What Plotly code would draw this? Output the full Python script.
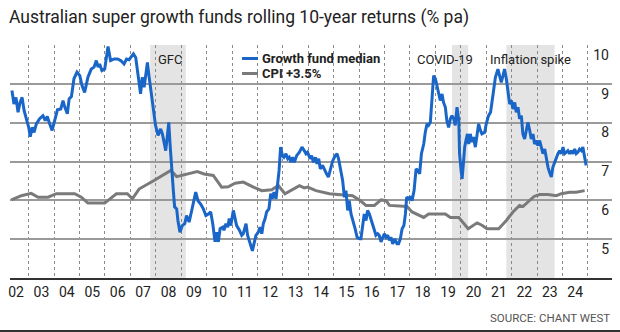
import plotly.graph_objects as go

# Rolling 10-year returns, % pa (fractional calendar years)
growth_years = [
    2002.34, 2002.42, 2002.50, 2002.58, 2002.66, 2002.74, 2002.82, 2002.91, 2003.00, 2003.06,
    2003.14, 2003.21, 2003.30, 2003.43, 2003.56, 2003.65, 2003.73, 2003.82, 2003.92, 2004.02,
    2004.13, 2004.26, 2004.35, 2004.42, 2004.52, 2004.59, 2004.68, 2004.78, 2004.90, 2005.01,
    2005.10, 2005.20, 2005.33, 2005.46, 2005.57, 2005.66, 2005.73, 2005.79, 2005.88, 2005.99,
    2006.08, 2006.12, 2006.22, 2006.36, 2006.49, 2006.62, 2006.75, 2006.85, 2006.95, 2007.01,
    2007.12, 2007.21, 2007.27, 2007.34, 2007.40, 2007.47, 2007.54, 2007.60, 2007.67, 2007.73,
    2007.80, 2007.90, 2007.99, 2008.09, 2008.19, 2008.26, 2008.32, 2008.39, 2008.45, 2008.51,
    2008.56, 2008.62, 2008.69, 2008.74, 2008.82, 2008.87, 2008.95, 2009.04, 2009.14, 2009.21,
    2009.31, 2009.40, 2009.48, 2009.57, 2009.66, 2009.77, 2009.87, 2009.97, 2010.07, 2010.16,
    2010.24, 2010.33, 2010.39, 2010.46, 2010.53, 2010.63, 2010.68, 2010.76, 2010.83, 2010.89,
    2010.95, 2011.05, 2011.12, 2011.18, 2011.29, 2011.38, 2011.44, 2011.55, 2011.61, 2011.71,
    2011.80, 2011.88, 2011.94, 2012.03, 2012.10, 2012.17, 2012.23, 2012.30, 2012.36, 2012.45,
    2012.52, 2012.58, 2012.65, 2012.73, 2012.78, 2012.85, 2012.91, 2012.98, 2013.04, 2013.12,
    2013.19, 2013.25, 2013.32, 2013.38, 2013.45, 2013.54, 2013.65, 2013.75, 2013.84, 2013.91,
    2013.97, 2014.07, 2014.13, 2014.20, 2014.28, 2014.34, 2014.41, 2014.47, 2014.56, 2014.64,
    2014.72, 2014.79, 2014.87, 2014.96, 2015.06, 2015.13, 2015.19, 2015.29, 2015.35, 2015.42,
    2015.48, 2015.55, 2015.61, 2015.68, 2015.74, 2015.84, 2015.92, 2016.01, 2016.07, 2016.14,
    2016.20, 2016.27, 2016.33, 2016.40, 2016.47, 2016.53, 2016.60, 2016.66, 2016.73, 2016.79,
    2016.86, 2016.93, 2016.99, 2017.06, 2017.12, 2017.19, 2017.25, 2017.32, 2017.40, 2017.49,
    2017.55, 2017.62, 2017.69, 2017.76, 2017.82, 2017.87, 2017.95, 2018.01, 2018.08, 2018.16,
    2018.24, 2018.31, 2018.38, 2018.45, 2018.54, 2018.60, 2018.67, 2018.73, 2018.80, 2018.87,
    2018.93, 2019.00, 2019.06, 2019.13, 2019.19, 2019.26, 2019.32, 2019.39, 2019.45, 2019.52,
    2019.59, 2019.65, 2019.72, 2019.78, 2019.85, 2019.92, 2019.95, 2020.01, 2020.05, 2020.10,
    2020.15, 2020.20, 2020.26, 2020.31, 2020.37, 2020.44, 2020.50, 2020.57, 2020.64, 2020.70,
    2020.77, 2020.83, 2020.94, 2021.00, 2021.09, 2021.17, 2021.27, 2021.36, 2021.46, 2021.53,
    2021.59, 2021.66, 2021.72, 2021.79, 2021.86, 2021.92, 2021.99, 2022.05, 2022.12, 2022.18,
    2022.25, 2022.31, 2022.38, 2022.44, 2022.51, 2022.58, 2022.64, 2022.71, 2022.77, 2022.84,
    2022.90, 2022.97, 2023.03, 2023.10, 2023.16, 2023.23, 2023.30, 2023.36, 2023.43, 2023.49,
    2023.56, 2023.62, 2023.69, 2023.76, 2023.82, 2023.89, 2023.95, 2024.02, 2024.08, 2024.15,
    2024.21, 2024.28, 2024.35, 2024.41, 2024.48, 2024.54, 2024.61, 2024.67, 2024.74, 2024.80,
    2024.84, 2024.89, 2024.93,
]
growth_median = [
    8.83, 8.48, 8.65, 8.27, 8.52, 8.65, 8.31, 8.10, 7.88, 7.64,
    7.88, 7.75, 7.97, 8.10, 8.18, 8.05, 8.16, 7.98, 7.80, 8.05,
    8.33, 8.35, 8.57, 8.40, 8.23, 8.61, 8.67, 9.13, 9.30, 9.21,
    8.95, 8.78, 9.17, 9.38, 9.43, 9.60, 9.43, 9.51, 9.34, 9.38,
    9.85, 9.96, 9.60, 9.64, 9.64, 9.60, 9.51, 9.64, 9.62, 9.68,
    9.77, 9.68, 9.30, 9.04, 8.74, 9.17, 8.91, 9.25, 9.55, 9.21,
    8.83, 8.31, 7.93, 7.67, 7.84, 7.71, 7.54, 7.28, 7.63, 8.01,
    7.45, 6.77, 6.25, 5.83, 5.78, 5.48, 5.18, 5.35, 5.40, 5.61,
    5.44, 5.70, 5.95, 6.21, 5.99, 5.90, 5.78, 5.61, 5.65, 5.70,
    5.40, 4.93, 5.18, 4.93, 5.27, 5.31, 5.23, 5.40, 5.31, 5.53,
    5.35, 5.74, 5.53, 5.35, 5.23, 5.10, 5.14, 5.40, 5.10, 4.88,
    4.70, 4.93, 5.10, 5.18, 5.31, 5.14, 5.40, 5.53, 5.70, 5.78,
    6.17, 6.04, 6.21, 6.04, 6.34, 6.77, 7.37, 7.15, 7.11, 7.20,
    7.07, 7.11, 6.98, 7.11, 6.98, 7.15, 7.24, 7.37, 7.28, 7.20,
    7.24, 7.07, 7.15, 6.98, 7.11, 6.94, 7.07, 6.81, 6.90, 6.77,
    6.68, 6.60, 6.81, 7.02, 7.15, 7.20, 7.07, 6.64, 6.51, 6.08,
    6.25, 5.74, 5.99, 5.65, 5.53, 5.27, 5.05, 5.01, 5.01, 5.31,
    5.65, 5.48, 5.74, 5.65, 5.48, 5.40, 5.23, 5.10, 5.14, 5.10,
    4.93, 5.05, 5.14, 5.05, 5.10, 4.97, 5.05, 4.88, 5.01, 4.88,
    4.88, 5.01, 5.27, 5.35, 5.65, 6.08, 6.04, 6.10, 5.99, 6.25,
    6.81, 6.77, 6.68, 7.20, 7.45, 7.75, 7.97, 7.93, 8.01, 8.65,
    9.21, 9.13, 8.95, 8.83, 8.57, 8.74, 8.52, 8.40, 8.05, 7.88,
    8.10, 8.18, 8.10, 7.93, 8.40, 8.05, 7.20, 6.77, 6.55, 6.94,
    7.37, 7.54, 7.71, 7.45, 7.71, 7.50, 7.63, 7.37, 7.71, 7.97,
    7.80, 7.71, 7.75, 7.97, 8.18, 8.27, 8.74, 9.17, 9.38, 9.21,
    9.04, 9.21, 9.38, 9.13, 8.74, 8.48, 8.57, 8.35, 8.52, 8.27,
    8.40, 8.10, 8.18, 7.71, 7.58, 7.80, 8.01, 7.80, 7.58, 7.71,
    7.45, 7.54, 7.41, 7.54, 7.37, 7.20, 7.32, 7.07, 6.85, 6.72,
    6.60, 6.85, 6.98, 7.07, 7.20, 7.28, 7.20, 7.37, 7.20, 7.24,
    7.28, 7.20, 7.28, 7.20, 7.32, 7.20, 7.24, 7.32, 7.28, 7.37,
    7.20, 7.11, 6.90,
]

cpi_years = [
    2002.32, 2002.71, 2003.10, 2003.37, 2003.76, 2004.09, 2004.81, 2005.07, 2005.33, 2005.99,
    2006.45, 2006.88, 2007.08, 2007.34, 2007.93, 2008.59, 2008.82, 2009.24, 2009.63, 2009.90,
    2010.26, 2010.59, 2010.85, 2011.12, 2011.44, 2011.84, 2012.17, 2012.56, 2012.82, 2013.08,
    2013.28, 2013.54, 2013.65, 2013.84, 2013.97, 2014.30, 2014.83, 2015.74, 2016.01, 2016.27,
    2016.60, 2016.86, 2017.06, 2017.19, 2017.88, 2018.08, 2018.54, 2018.73, 2019.39, 2019.59,
    2019.92, 2020.29, 2020.64, 2020.83, 2021.03, 2021.49, 2021.79, 2022.05, 2022.31, 2022.44,
    2022.64, 2022.88, 2023.10, 2023.43, 2023.76, 2023.95, 2024.28, 2024.54, 2024.87,
]
cpi_plus = [
    6.01, 6.12, 6.18, 6.08, 6.08, 6.17, 6.17, 6.08, 5.93, 5.93,
    6.17, 6.17, 6.04, 6.29, 6.51, 6.77, 6.61, 6.68, 6.74, 6.68,
    6.64, 6.34, 6.35, 6.44, 6.47, 6.34, 6.25, 6.27, 6.38, 6.17,
    6.24, 6.32, 6.38, 6.32, 6.34, 6.25, 6.17, 6.12, 6.01, 5.87,
    5.87, 6.01, 5.99, 5.87, 5.84, 5.70, 5.56, 5.65, 5.65, 5.56,
    5.56, 5.27, 5.42, 5.36, 5.27, 5.27, 5.48, 5.70, 5.87, 5.84,
    5.95, 6.10, 6.15, 6.15, 6.12, 6.17, 6.21, 6.21, 6.25,
]

# Shaded episodes: (label, start, end)
episode_names = ["GFC", "COVID-19", "Inflation spike"]
episode_start = [2007.78, 2019.65, 2021.79]
episode_end = [2009.18, 2020.29, 2023.69]

year_labels = [f"{y % 100:02d}" for y in range(2002, 2025)]
year_label_pos = [y + 0.5 for y in range(2002, 2025)]
y_ticks = [5, 6, 7, 8, 9, 10]

BLUE = "#1a66c8"
GREY = "#7a7a7a"
TEXT = "#222222"
FONT = "Roboto"

W, H = 620, 332
L, R, T, B = 10, 8, 45, 54


def px_x(p):
    return (p - L) / (W - L - R)


def px_y(p):
    return (H - B - p) / (H - T - B)


fig = go.Figure()

fig.add_trace(go.Scatter(
    x=cpi_years, y=cpi_plus, mode="lines", name="CPI +3.5%",
    line=dict(color=GREY, width=3), hoverinfo="skip",
))
fig.add_trace(go.Scatter(
    x=growth_years, y=growth_median, mode="lines", name="Growth fund median",
    line=dict(color=BLUE, width=3), hoverinfo="skip",
))

shapes = []
for s, e in zip(episode_start, episode_end):
    shapes.append(dict(type="rect", xref="x", yref="paper", x0=s, x1=e, y0=0, y1=1,
                       fillcolor="#e4e4e4", line=dict(width=0), layer="below"))

# legend keys
shapes.append(dict(type="line", xref="paper", yref="paper", x0=px_x(242), x1=px_x(258),
                   y0=px_y(58.5), y1=px_y(58.5), line=dict(color=BLUE, width=3)))
shapes.append(dict(type="line", xref="paper", yref="paper", x0=px_x(242), x1=px_x(258),
                   y0=px_y(73.5), y1=px_y(73.5), line=dict(color=GREY, width=3)))
# bottom rule of the graphic
shapes.append(dict(type="line", xref="paper", yref="paper", x0=px_x(0), x1=px_x(620),
                   y0=px_y(331), y1=px_y(331), line=dict(color="#333333", width=2)))

annotations = [
    dict(text="Australian super growth funds rolling 10-year returns (% pa)",
         xref="paper", yref="paper", x=px_x(7), y=px_y(17), xanchor="left", yanchor="middle",
         showarrow=False, font=dict(family=FONT, size=17.5, color=TEXT)),
    dict(text="<b>Growth fund median</b>", xref="paper", yref="paper", x=px_x(260), y=px_y(58.5),
         xanchor="left", yanchor="middle", showarrow=False,
         font=dict(family=FONT, size=13, color=TEXT)),
    dict(text="<b>CPI +3.5%</b>", xref="paper", yref="paper", x=px_x(260), y=px_y(73.5),
         xanchor="left", yanchor="middle", showarrow=False,
         font=dict(family=FONT, size=13, color=TEXT)),
    dict(text="SOURCE: CHANT WEST", xref="paper", yref="paper", x=px_x(612), y=px_y(318),
         xanchor="right", yanchor="middle", showarrow=False,
         font=dict(family=FONT, size=11.5, color="#555555")),
]
label_centres = [170, 445, 530]
for name, cx in zip(episode_names, label_centres):
    annotations.append(dict(text=name, xref="paper", yref="paper", x=px_x(cx), y=px_y(59),
                            xanchor="center", yanchor="middle", showarrow=False,
                            font=dict(family=FONT, size=13, color=TEXT)))

fig.update_layout(
    width=W, height=H,
    margin=dict(l=L, r=R, t=T, b=B),
    paper_bgcolor="white", plot_bgcolor="white",
    showlegend=False,
    shapes=shapes, annotations=annotations,
    xaxis=dict(
        range=[2002.264, 2025.947], tickmode="array", tickvals=year_label_pos,
        ticktext=year_labels, ticks="", showgrid=False, zeroline=False,
        showline=True, linecolor="#333333", linewidth=1.5,
        tickfont=dict(family=FONT, size=14, color=TEXT),
        minor=dict(tickmode="array", tickvals=list(range(2003, 2026)), showgrid=True,
                   gridcolor="#8a8a8a", gridwidth=1, griddash="dot"),
    ),
    yaxis=dict(
        range=[4, 10], side="right", tickmode="array", tickvals=y_ticks,
        ticks="", showgrid=True, gridcolor="#9a9a9a", gridwidth=1.5, zeroline=False,
        ticklabelposition="inside bottom",
        tickfont=dict(family=FONT, size=14, color=TEXT),
    ),
)

fig.write_html("out.html")
